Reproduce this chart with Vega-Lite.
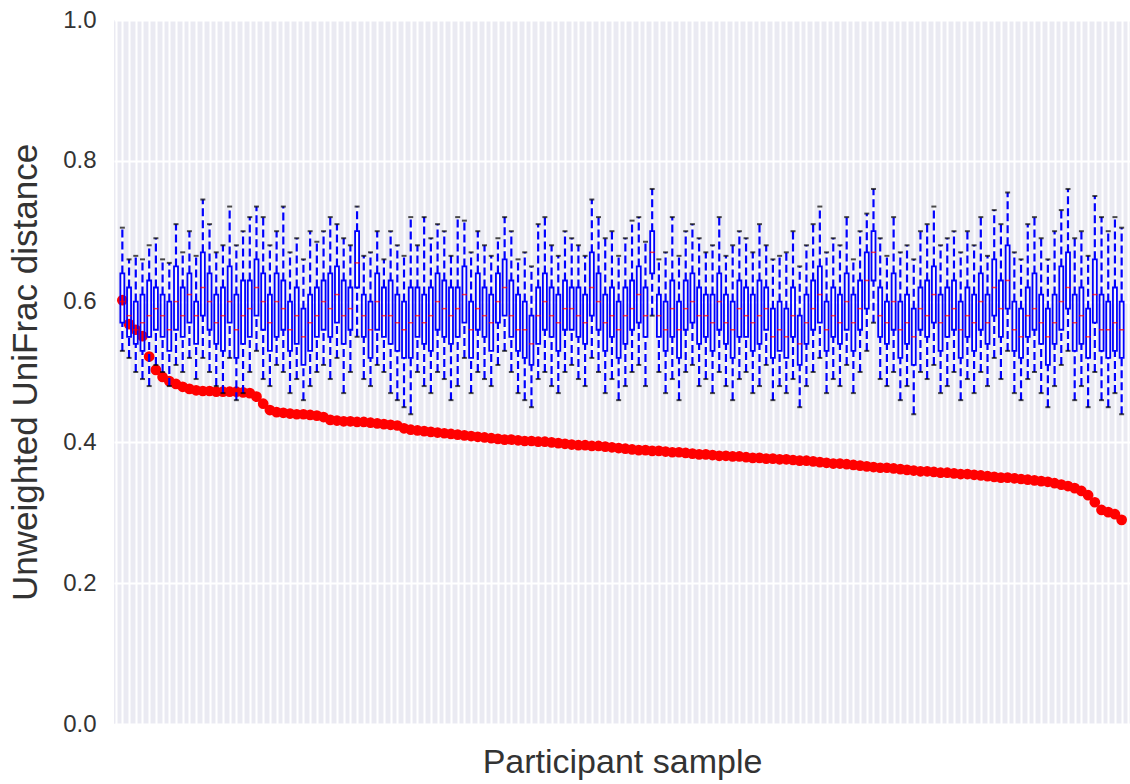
{
"$schema": "https://vega.github.io/schema/vega-lite/v6.json",
"width": 1016,
"height": 704,
"autosize": "none",
"padding": {"left": 114, "top": 20, "right": 0, "bottom": 60},
"background": "white",
"view": {"fill": "#EAEAF2", "stroke": null},
"config": {"font": "Liberation Sans"},
"data": {"values": [
{"i":1,"lo":0.53,"q1":0.57,"med":0.60,"q3":0.64,"hi":0.705,"d":0.602},
{"i":2,"lo":0.52,"q1":0.55,"med":0.58,"q3":0.62,"hi":0.66,"d":0.568},
{"i":3,"lo":0.50,"q1":0.54,"med":0.56,"q3":0.60,"hi":0.665,"d":0.560},
{"i":4,"lo":0.49,"q1":0.53,"med":0.57,"q3":0.61,"hi":0.66,"d":0.551},
{"i":5,"lo":0.48,"q1":0.55,"med":0.58,"q3":0.63,"hi":0.68,"d":0.522},
{"i":6,"lo":0.51,"q1":0.56,"med":0.59,"q3":0.62,"hi":0.69,"d":0.503},
{"i":7,"lo":0.50,"q1":0.55,"med":0.58,"q3":0.61,"hi":0.66,"d":0.493},
{"i":8,"lo":0.48,"q1":0.53,"med":0.56,"q3":0.60,"hi":0.655,"d":0.487},
{"i":9,"lo":0.51,"q1":0.56,"med":0.60,"q3":0.65,"hi":0.71,"d":0.483},
{"i":10,"lo":0.50,"q1":0.55,"med":0.58,"q3":0.62,"hi":0.67,"d":0.479},
{"i":11,"lo":0.52,"q1":0.57,"med":0.61,"q3":0.64,"hi":0.70,"d":0.476},
{"i":12,"lo":0.49,"q1":0.54,"med":0.58,"q3":0.60,"hi":0.665,"d":0.474},
{"i":13,"lo":0.52,"q1":0.58,"med":0.62,"q3":0.67,"hi":0.745,"d":0.473},
{"i":14,"lo":0.50,"q1":0.56,"med":0.60,"q3":0.64,"hi":0.71,"d":0.473},
{"i":15,"lo":0.48,"q1":0.54,"med":0.57,"q3":0.61,"hi":0.67,"d":0.472},
{"i":16,"lo":0.47,"q1":0.53,"med":0.58,"q3":0.62,"hi":0.68,"d":0.472},
{"i":17,"lo":0.52,"q1":0.57,"med":0.60,"q3":0.65,"hi":0.735,"d":0.472},
{"i":18,"lo":0.46,"q1":0.52,"med":0.56,"q3":0.61,"hi":0.68,"d":0.472},
{"i":19,"lo":0.47,"q1":0.54,"med":0.58,"q3":0.63,"hi":0.70,"d":0.471},
{"i":20,"lo":0.50,"q1":0.55,"med":0.59,"q3":0.63,"hi":0.72,"d":0.470},
{"i":21,"lo":0.53,"q1":0.58,"med":0.62,"q3":0.66,"hi":0.735,"d":0.465},
{"i":22,"lo":0.49,"q1":0.56,"med":0.60,"q3":0.64,"hi":0.72,"d":0.455},
{"i":23,"lo":0.48,"q1":0.53,"med":0.57,"q3":0.61,"hi":0.68,"d":0.446},
{"i":24,"lo":0.51,"q1":0.55,"med":0.60,"q3":0.64,"hi":0.70,"d":0.443},
{"i":25,"lo":0.50,"q1":0.56,"med":0.59,"q3":0.63,"hi":0.735,"d":0.442},
{"i":26,"lo":0.47,"q1":0.53,"med":0.56,"q3":0.60,"hi":0.67,"d":0.441},
{"i":27,"lo":0.49,"q1":0.54,"med":0.58,"q3":0.62,"hi":0.69,"d":0.440},
{"i":28,"lo":0.46,"q1":0.51,"med":0.55,"q3":0.59,"hi":0.66,"d":0.440},
{"i":29,"lo":0.48,"q1":0.53,"med":0.57,"q3":0.61,"hi":0.70,"d":0.439},
{"i":30,"lo":0.50,"q1":0.55,"med":0.58,"q3":0.62,"hi":0.685,"d":0.438},
{"i":31,"lo":0.51,"q1":0.56,"med":0.60,"q3":0.63,"hi":0.70,"d":0.436},
{"i":32,"lo":0.49,"q1":0.55,"med":0.59,"q3":0.64,"hi":0.72,"d":0.432},
{"i":33,"lo":0.52,"q1":0.57,"med":0.61,"q3":0.65,"hi":0.71,"d":0.431},
{"i":34,"lo":0.47,"q1":0.54,"med":0.58,"q3":0.63,"hi":0.69,"d":0.430},
{"i":35,"lo":0.50,"q1":0.56,"med":0.59,"q3":0.62,"hi":0.68,"d":0.430},
{"i":36,"lo":0.55,"q1":0.62,"med":0.655,"q3":0.70,"hi":0.735,"d":0.429},
{"i":37,"lo":0.49,"q1":0.55,"med":0.58,"q3":0.61,"hi":0.665,"d":0.429},
{"i":38,"lo":0.48,"q1":0.52,"med":0.56,"q3":0.60,"hi":0.67,"d":0.428},
{"i":39,"lo":0.51,"q1":0.56,"med":0.60,"q3":0.64,"hi":0.70,"d":0.427},
{"i":40,"lo":0.50,"q1":0.55,"med":0.58,"q3":0.62,"hi":0.66,"d":0.426},
{"i":41,"lo":0.47,"q1":0.54,"med":0.58,"q3":0.63,"hi":0.70,"d":0.425},
{"i":42,"lo":0.46,"q1":0.53,"med":0.57,"q3":0.61,"hi":0.68,"d":0.424},
{"i":43,"lo":0.45,"q1":0.52,"med":0.56,"q3":0.60,"hi":0.665,"d":0.420},
{"i":44,"lo":0.44,"q1":0.52,"med":0.57,"q3":0.62,"hi":0.72,"d":0.418},
{"i":45,"lo":0.50,"q1":0.55,"med":0.58,"q3":0.62,"hi":0.68,"d":0.417},
{"i":46,"lo":0.48,"q1":0.54,"med":0.57,"q3":0.61,"hi":0.72,"d":0.416},
{"i":47,"lo":0.47,"q1":0.53,"med":0.58,"q3":0.62,"hi":0.69,"d":0.415},
{"i":48,"lo":0.50,"q1":0.56,"med":0.60,"q3":0.64,"hi":0.71,"d":0.414},
{"i":49,"lo":0.49,"q1":0.55,"med":0.59,"q3":0.63,"hi":0.70,"d":0.413},
{"i":50,"lo":0.46,"q1":0.54,"med":0.58,"q3":0.62,"hi":0.665,"d":0.412},
{"i":51,"lo":0.48,"q1":0.55,"med":0.59,"q3":0.62,"hi":0.72,"d":0.411},
{"i":52,"lo":0.52,"q1":0.57,"med":0.61,"q3":0.65,"hi":0.715,"d":0.410},
{"i":53,"lo":0.47,"q1":0.52,"med":0.56,"q3":0.60,"hi":0.67,"d":0.409},
{"i":54,"lo":0.50,"q1":0.56,"med":0.59,"q3":0.64,"hi":0.70,"d":0.408},
{"i":55,"lo":0.49,"q1":0.55,"med":0.58,"q3":0.62,"hi":0.68,"d":0.407},
{"i":56,"lo":0.48,"q1":0.53,"med":0.57,"q3":0.61,"hi":0.665,"d":0.406},
{"i":57,"lo":0.51,"q1":0.57,"med":0.60,"q3":0.64,"hi":0.69,"d":0.405},
{"i":58,"lo":0.53,"q1":0.58,"med":0.62,"q3":0.66,"hi":0.72,"d":0.404},
{"i":59,"lo":0.50,"q1":0.55,"med":0.58,"q3":0.63,"hi":0.70,"d":0.404},
{"i":60,"lo":0.47,"q1":0.53,"med":0.56,"q3":0.61,"hi":0.66,"d":0.403},
{"i":61,"lo":0.46,"q1":0.52,"med":0.56,"q3":0.60,"hi":0.67,"d":0.402},
{"i":62,"lo":0.45,"q1":0.51,"med":0.54,"q3":0.58,"hi":0.65,"d":0.402},
{"i":63,"lo":0.49,"q1":0.54,"med":0.58,"q3":0.62,"hi":0.71,"d":0.401},
{"i":64,"lo":0.50,"q1":0.56,"med":0.60,"q3":0.64,"hi":0.72,"d":0.401},
{"i":65,"lo":0.48,"q1":0.55,"med":0.58,"q3":0.62,"hi":0.68,"d":0.400},
{"i":66,"lo":0.47,"q1":0.53,"med":0.57,"q3":0.61,"hi":0.665,"d":0.399},
{"i":67,"lo":0.50,"q1":0.56,"med":0.59,"q3":0.63,"hi":0.70,"d":0.398},
{"i":68,"lo":0.51,"q1":0.56,"med":0.59,"q3":0.62,"hi":0.69,"d":0.397},
{"i":69,"lo":0.49,"q1":0.55,"med":0.58,"q3":0.62,"hi":0.68,"d":0.396},
{"i":70,"lo":0.48,"q1":0.54,"med":0.57,"q3":0.61,"hi":0.665,"d":0.396},
{"i":71,"lo":0.52,"q1":0.58,"med":0.62,"q3":0.67,"hi":0.745,"d":0.395},
{"i":72,"lo":0.50,"q1":0.56,"med":0.60,"q3":0.64,"hi":0.72,"d":0.395},
{"i":73,"lo":0.47,"q1":0.53,"med":0.57,"q3":0.61,"hi":0.69,"d":0.394},
{"i":74,"lo":0.49,"q1":0.55,"med":0.58,"q3":0.62,"hi":0.70,"d":0.393},
{"i":75,"lo":0.46,"q1":0.52,"med":0.56,"q3":0.60,"hi":0.665,"d":0.392},
{"i":76,"lo":0.48,"q1":0.54,"med":0.58,"q3":0.62,"hi":0.69,"d":0.391},
{"i":77,"lo":0.50,"q1":0.56,"med":0.59,"q3":0.63,"hi":0.715,"d":0.390},
{"i":78,"lo":0.51,"q1":0.57,"med":0.61,"q3":0.65,"hi":0.72,"d":0.389},
{"i":79,"lo":0.48,"q1":0.55,"med":0.58,"q3":0.62,"hi":0.685,"d":0.389},
{"i":80,"lo":0.58,"q1":0.64,"med":0.67,"q3":0.70,"hi":0.76,"d":0.388},
{"i":81,"lo":0.50,"q1":0.55,"med":0.58,"q3":0.61,"hi":0.66,"d":0.388},
{"i":82,"lo":0.47,"q1":0.53,"med":0.56,"q3":0.60,"hi":0.67,"d":0.387},
{"i":83,"lo":0.49,"q1":0.55,"med":0.59,"q3":0.63,"hi":0.72,"d":0.386},
{"i":84,"lo":0.46,"q1":0.52,"med":0.56,"q3":0.60,"hi":0.665,"d":0.386},
{"i":85,"lo":0.50,"q1":0.56,"med":0.59,"q3":0.63,"hi":0.70,"d":0.385},
{"i":86,"lo":0.51,"q1":0.57,"med":0.60,"q3":0.64,"hi":0.71,"d":0.384},
{"i":87,"lo":0.48,"q1":0.54,"med":0.58,"q3":0.62,"hi":0.69,"d":0.383},
{"i":88,"lo":0.49,"q1":0.55,"med":0.58,"q3":0.61,"hi":0.67,"d":0.383},
{"i":89,"lo":0.47,"q1":0.53,"med":0.57,"q3":0.61,"hi":0.68,"d":0.382},
{"i":90,"lo":0.50,"q1":0.56,"med":0.60,"q3":0.64,"hi":0.72,"d":0.381},
{"i":91,"lo":0.48,"q1":0.54,"med":0.57,"q3":0.61,"hi":0.665,"d":0.381},
{"i":92,"lo":0.46,"q1":0.52,"med":0.56,"q3":0.60,"hi":0.68,"d":0.380},
{"i":93,"lo":0.49,"q1":0.55,"med":0.59,"q3":0.63,"hi":0.70,"d":0.380},
{"i":94,"lo":0.50,"q1":0.55,"med":0.58,"q3":0.62,"hi":0.69,"d":0.379},
{"i":95,"lo":0.47,"q1":0.53,"med":0.57,"q3":0.61,"hi":0.67,"d":0.378},
{"i":96,"lo":0.48,"q1":0.54,"med":0.58,"q3":0.63,"hi":0.71,"d":0.378},
{"i":97,"lo":0.51,"q1":0.56,"med":0.59,"q3":0.62,"hi":0.68,"d":0.377},
{"i":98,"lo":0.46,"q1":0.52,"med":0.55,"q3":0.59,"hi":0.66,"d":0.377},
{"i":99,"lo":0.48,"q1":0.53,"med":0.56,"q3":0.60,"hi":0.665,"d":0.376},
{"i":100,"lo":0.47,"q1":0.52,"med":0.55,"q3":0.59,"hi":0.67,"d":0.376},
{"i":101,"lo":0.49,"q1":0.55,"med":0.58,"q3":0.62,"hi":0.70,"d":0.375},
{"i":102,"lo":0.45,"q1":0.51,"med":0.54,"q3":0.58,"hi":0.65,"d":0.374},
{"i":103,"lo":0.48,"q1":0.54,"med":0.57,"q3":0.61,"hi":0.68,"d":0.374},
{"i":104,"lo":0.50,"q1":0.56,"med":0.59,"q3":0.63,"hi":0.71,"d":0.373},
{"i":105,"lo":0.52,"q1":0.57,"med":0.61,"q3":0.65,"hi":0.735,"d":0.372},
{"i":106,"lo":0.47,"q1":0.53,"med":0.56,"q3":0.60,"hi":0.67,"d":0.371},
{"i":107,"lo":0.49,"q1":0.55,"med":0.58,"q3":0.62,"hi":0.69,"d":0.370},
{"i":108,"lo":0.48,"q1":0.54,"med":0.57,"q3":0.61,"hi":0.68,"d":0.370},
{"i":109,"lo":0.51,"q1":0.56,"med":0.60,"q3":0.64,"hi":0.72,"d":0.369},
{"i":110,"lo":0.47,"q1":0.53,"med":0.57,"q3":0.61,"hi":0.66,"d":0.368},
{"i":111,"lo":0.50,"q1":0.56,"med":0.59,"q3":0.63,"hi":0.70,"d":0.367},
{"i":112,"lo":0.53,"q1":0.59,"med":0.63,"q3":0.67,"hi":0.725,"d":0.366},
{"i":113,"lo":0.57,"q1":0.63,"med":0.67,"q3":0.70,"hi":0.76,"d":0.365},
{"i":114,"lo":0.49,"q1":0.55,"med":0.58,"q3":0.62,"hi":0.69,"d":0.364},
{"i":115,"lo":0.48,"q1":0.54,"med":0.57,"q3":0.60,"hi":0.665,"d":0.364},
{"i":116,"lo":0.50,"q1":0.56,"med":0.60,"q3":0.64,"hi":0.72,"d":0.363},
{"i":117,"lo":0.46,"q1":0.52,"med":0.56,"q3":0.60,"hi":0.67,"d":0.362},
{"i":118,"lo":0.48,"q1":0.54,"med":0.57,"q3":0.61,"hi":0.68,"d":0.361},
{"i":119,"lo":0.44,"q1":0.51,"med":0.55,"q3":0.59,"hi":0.66,"d":0.360},
{"i":120,"lo":0.50,"q1":0.56,"med":0.59,"q3":0.62,"hi":0.70,"d":0.359},
{"i":121,"lo":0.49,"q1":0.55,"med":0.58,"q3":0.63,"hi":0.71,"d":0.359},
{"i":122,"lo":0.51,"q1":0.57,"med":0.61,"q3":0.65,"hi":0.735,"d":0.358},
{"i":123,"lo":0.47,"q1":0.53,"med":0.57,"q3":0.61,"hi":0.68,"d":0.357},
{"i":124,"lo":0.48,"q1":0.55,"med":0.58,"q3":0.62,"hi":0.69,"d":0.357},
{"i":125,"lo":0.50,"q1":0.56,"med":0.59,"q3":0.63,"hi":0.70,"d":0.356},
{"i":126,"lo":0.46,"q1":0.52,"med":0.56,"q3":0.60,"hi":0.67,"d":0.355},
{"i":127,"lo":0.49,"q1":0.55,"med":0.58,"q3":0.62,"hi":0.70,"d":0.355},
{"i":128,"lo":0.47,"q1":0.53,"med":0.57,"q3":0.61,"hi":0.68,"d":0.354},
{"i":129,"lo":0.50,"q1":0.56,"med":0.60,"q3":0.64,"hi":0.72,"d":0.353},
{"i":130,"lo":0.48,"q1":0.54,"med":0.57,"q3":0.61,"hi":0.665,"d":0.352},
{"i":131,"lo":0.52,"q1":0.58,"med":0.62,"q3":0.66,"hi":0.73,"d":0.351},
{"i":132,"lo":0.49,"q1":0.55,"med":0.59,"q3":0.63,"hi":0.71,"d":0.350},
{"i":133,"lo":0.53,"q1":0.59,"med":0.63,"q3":0.68,"hi":0.755,"d":0.350},
{"i":134,"lo":0.47,"q1":0.53,"med":0.56,"q3":0.60,"hi":0.67,"d":0.349},
{"i":135,"lo":0.46,"q1":0.52,"med":0.55,"q3":0.59,"hi":0.66,"d":0.348},
{"i":136,"lo":0.49,"q1":0.55,"med":0.58,"q3":0.62,"hi":0.71,"d":0.347},
{"i":137,"lo":0.50,"q1":0.56,"med":0.59,"q3":0.64,"hi":0.72,"d":0.346},
{"i":138,"lo":0.47,"q1":0.54,"med":0.57,"q3":0.61,"hi":0.69,"d":0.345},
{"i":139,"lo":0.45,"q1":0.51,"med":0.55,"q3":0.59,"hi":0.66,"d":0.344},
{"i":140,"lo":0.48,"q1":0.54,"med":0.57,"q3":0.61,"hi":0.70,"d":0.342},
{"i":141,"lo":0.51,"q1":0.56,"med":0.60,"q3":0.65,"hi":0.73,"d":0.340},
{"i":142,"lo":0.53,"q1":0.59,"med":0.62,"q3":0.67,"hi":0.76,"d":0.338},
{"i":143,"lo":0.46,"q1":0.53,"med":0.57,"q3":0.61,"hi":0.69,"d":0.335},
{"i":144,"lo":0.48,"q1":0.54,"med":0.58,"q3":0.62,"hi":0.70,"d":0.331},
{"i":145,"lo":0.45,"q1":0.52,"med":0.55,"q3":0.59,"hi":0.665,"d":0.325},
{"i":146,"lo":0.50,"q1":0.57,"med":0.61,"q3":0.66,"hi":0.75,"d":0.315},
{"i":147,"lo":0.46,"q1":0.53,"med":0.56,"q3":0.61,"hi":0.72,"d":0.304},
{"i":148,"lo":0.45,"q1":0.52,"med":0.56,"q3":0.60,"hi":0.70,"d":0.301},
{"i":149,"lo":0.47,"q1":0.53,"med":0.57,"q3":0.62,"hi":0.72,"d":0.298},
{"i":150,"lo":0.44,"q1":0.52,"med":0.56,"q3":0.60,"hi":0.705,"d":0.290}
]},
"encoding": {
  "x": {"field": "i", "type": "quantitative",
        "scale": {"domain": [0.5, 150.5], "nice": false, "zero": false},
        "axis": {"title": "Participant sample", "labels": false, "ticks": false, "domain": false,
                 "grid": true, "gridColor": "white", "gridWidth": 2, "gridOpacity": 1, "tickCount": 150,
                 "titleFontSize": 34, "titleFontWeight": "normal", "titleColor": "#333333",
                 "titleFont": "Liberation Sans", "titlePadding": 21}}
},
"layer": [
  {"mark": {"type": "circle", "color": "#FF0000", "opacity": 1, "size": 115},
   "encoding": {"y": {"field": "d", "type": "quantitative", "title": "Unweighted UniFrac distance",
                      "scale": {"domain": [0, 1], "nice": false, "zero": true},
                      "axis": {"values": [0, 0.2, 0.4, 0.6, 0.8, 1.0], "format": ".1f",
                               "ticks": false, "domain": false, "grid": true, "gridColor": "white", "gridWidth": 2, "gridOpacity": 1,
                               "labelFontSize": 24, "labelColor": "#333333", "labelFont": "Liberation Sans", "labelPadding": 18,
                               "titleFontSize": 35, "titleFontWeight": "normal", "titleColor": "#333333",
                               "titleFont": "Liberation Sans", "titlePadding": 19}}}},
  {"mark": {"type": "rule", "color": "#0000FF", "strokeWidth": 2.2, "strokeDash": [8, 4]},
   "encoding": {"y": {"field": "lo", "type": "quantitative", "title": "Unweighted UniFrac distance"}, "y2": {"field": "q1"}}},
  {"mark": {"type": "rule", "color": "#0000FF", "strokeWidth": 2.2, "strokeDash": [8, 4]},
   "encoding": {"y": {"field": "q3", "type": "quantitative", "title": "Unweighted UniFrac distance"}, "y2": {"field": "hi"}}},
  {"mark": {"type": "bar", "width": 4, "fill": "transparent", "stroke": "#0000FF", "strokeWidth": 1.8},
   "encoding": {"y": {"field": "q1", "type": "quantitative", "title": "Unweighted UniFrac distance"}, "y2": {"field": "q3"}}},
  {"mark": {"type": "tick", "orient": "horizontal", "color": "#000000", "size": 5, "thickness": 2},
   "encoding": {"y": {"field": "lo", "type": "quantitative", "title": "Unweighted UniFrac distance"}}},
  {"mark": {"type": "tick", "orient": "horizontal", "color": "#000000", "size": 5, "thickness": 2},
   "encoding": {"y": {"field": "hi", "type": "quantitative", "title": "Unweighted UniFrac distance"}}},
  {"mark": {"type": "tick", "orient": "horizontal", "color": "#FF0000", "size": 5, "thickness": 1.5},
   "encoding": {"y": {"field": "med", "type": "quantitative", "title": "Unweighted UniFrac distance"}}}
]
}
